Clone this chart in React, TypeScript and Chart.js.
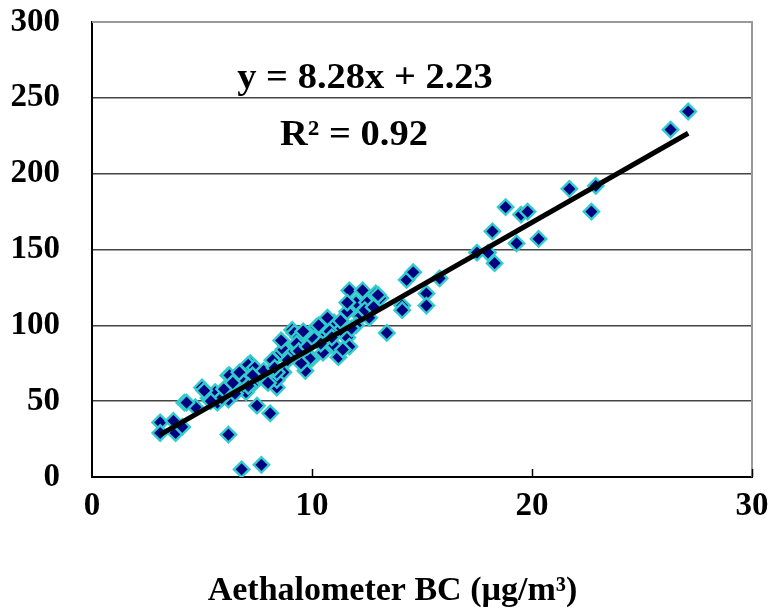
import React, { useEffect, useRef } from "react";
import { Chart, registerables } from "chart.js";

Chart.register(...registerables);

const bcValues = [
  3.1, 3.1, 3.7, 3.8, 4.1, 4.2, 4.7, 5.0, 5.3, 5.6, 5.7, 6.2, 6.2, 6.2, 6.5, 6.6, 6.8, 6.8, 7.2, 7.3,
  7.5, 7.7, 7.6, 7.9, 8.1, 8.2, 8.4, 8.6, 8.7, 8.4, 8.8, 9.1, 9.7, 10.0, 10.2, 9.9, 11.0, 10.9, 11.2, 11.6,
  11.7, 11.6, 11.7, 12.0, 12.3, 12.5, 12.9, 12.6, 13.4, 14.1, 14.1, 14.3, 14.6, 15.2, 15.2, 15.8, 17.5, 18.0, 18.2, 18.3,
  18.8, 19.3, 19.5, 19.8, 20.3, 21.7, 22.7, 22.9, 26.3, 27.1, 4.3, 5.1, 6.25, 6.7, 7.1, 8.4, 8.7, 9.2, 9.4, 9.9,
  10.3, 11.0, 11.0, 11.4, 11.6, 10.5, 9.5, 7.0, 5.9, 6.5, 9.0, 10.6, 12.2, 13.1, 11.3, 8.0, 9.3, 10.8, 12.0, 7.4,
  5.4, 6.0, 6.9, 7.3, 7.8, 8.3, 8.9, 9.4, 9.8, 10.1, 10.4, 10.9, 11.3, 11.8, 12.4, 12.8, 13.0, 8.6, 9.6, 10.7,
  7.1, 6.4,
];
const refValues = [
  36, 29, 37, 29, 33, 49, 46, 59, 52, 56, 49, 67, 51, 28, 59, 64, 69, 5, 75, 61,
  47, 8, 66, 64, 42, 77, 59, 82, 69, 64, 84, 97, 70, 78, 99, 89, 102, 87, 79, 92,
  86, 109, 123, 115, 123, 115, 121, 105, 95, 113, 110, 130, 135, 121, 113, 131, 148, 148, 162, 141,
  178, 154, 173, 175, 157, 190, 175, 192, 229, 241, 49, 57, 67, 69, 74, 69, 84, 95, 92, 78,
  100, 101, 87, 84, 115, 82, 75, 56, 52, 55, 80, 93, 106, 118, 97, 62, 88, 96, 100, 72,
  50, 58, 62, 67, 70, 72, 77, 83, 86, 91, 88, 92, 103, 98, 110, 112, 120, 90, 96, 105,
  60, 62,
];
const fitSlope = 8.28;
const fitIntercept = 2.23;
const fitRange = [3.1, 27.1];
const xTicks = [0, 10, 20, 30];
const yTicks = [0, 50, 100, 150, 200, 250, 300];
const equationText = "y = 8.28x + 2.23";
const r2Text = "R² = 0.92";
const xTitle = "Aethalometer BC (µg/m³)";

const FONT = "'Liberation Serif', 'Times New Roman', Times, serif";

export default function App() {
  const ref = useRef<HTMLCanvasElement | null>(null);

  useEffect(() => {
    document.body.style.margin = "0";
    const canvas = ref.current;
    if (!canvas) return;

    const points = bcValues.map((x, i) => ({ x, y: refValues[i] }));
    const fitPoints = fitRange.map((x) => ({ x, y: fitSlope * x + fitIntercept }));

    const drawStretched = (ctx: any, text: string, cx: number, by: number, sx: number) => {
      ctx.save();
      ctx.translate(cx, by);
      ctx.scale(sx, 1);
      ctx.fillText(text, 0, 0);
      ctx.restore();
    };

    const decor = {
      id: "decor",
      afterDatasetsDraw(chart: any) {
        const { ctx, chartArea, scales, width } = chart;
        ctx.save();
        ctx.strokeStyle = "#999999";
        ctx.lineWidth = 2;
        ctx.beginPath();
        ctx.moveTo(chartArea.left, chartArea.top);
        ctx.lineTo(chartArea.right, chartArea.top);
        ctx.lineTo(chartArea.right, chartArea.bottom);
        ctx.stroke();
        ctx.strokeStyle = "#000";
        ctx.lineWidth = 1.5;
        xTicks.forEach((v) => {
          if (v === 0) return;
          const px = Math.round(scales.x.getPixelForValue(v)) + 0.5;
          ctx.beginPath();
          ctx.moveTo(px, chartArea.bottom);
          ctx.lineTo(px, chartArea.bottom - 8);
          ctx.stroke();
        });
        ctx.fillStyle = "#000";
        ctx.font = `bold 35px ${FONT}`;
        ctx.textAlign = "center";
        ctx.textBaseline = "alphabetic";
        drawStretched(ctx, equationText, chartArea.left + 273, chartArea.top + 66, 1.1);
        drawStretched(ctx, r2Text, chartArea.left + 262, chartArea.top + 123, 1.1);
        ctx.font = `bold 34px ${FONT}`;
        ctx.textBaseline = "middle";
        ctx.fillText(xTitle, width / 2 + 7, 591);
        ctx.restore();
      },
    };

    const chart = new Chart(canvas, {
      type: "scatter",
      data: {
        datasets: [
          {
            data: fitPoints,
            showLine: true,
            borderColor: "#000000",
            borderWidth: 5,
            pointRadius: 0,
            order: 0,
          },
          {
            data: points,
            pointStyle: "rectRot",
            pointRadius: 7.7,
            pointBackgroundColor: "#000080",
            pointBorderColor: "#33CCCC",
            pointBorderWidth: 2.4,
            order: 1,
          },
        ],
      },
      options: {
        responsive: false,
        animation: false,
        layout: { padding: { left: 0, top: 22, right: 19, bottom: 0 } },
        plugins: { legend: { display: false }, tooltip: { enabled: false } },
        scales: {
          x: {
            type: "linear",
            min: 0,
            max: 30,
            afterBuildTicks: (s: any) => {
              s.ticks = xTicks.map((v) => ({ value: v }));
            },
            afterFit: (s: any) => {
              s.height = 138;
              s.paddingLeft = 0;
              s.paddingRight = 0;
            },
            grid: { display: false, drawTicks: false },
            border: { display: true, color: "#000", width: 2 },
            ticks: {
              color: "#000",
              padding: 10,
              font: { family: FONT, size: 33, weight: "bold" },
            },
            title: { display: false },
          },
          y: {
            type: "linear",
            min: 0,
            max: 300,
            afterBuildTicks: (s: any) => {
              s.ticks = yTicks.map((v) => ({ value: v }));
            },
            afterFit: (s: any) => {
              s.width = 92;
              s.paddingTop = 0;
              s.paddingBottom = 0;
            },
            grid: { color: "#444444", lineWidth: 1.5, drawTicks: false },
            border: { display: true, color: "#000", width: 2 },
            ticks: {
              color: "#000",
              padding: 32,
              font: { family: FONT, size: 33, weight: "bold" },
            },
          },
        },
      },
      plugins: [decor],
    } as any);

    return () => chart.destroy();
  }, []);

  return (
    <div style={{ position: "absolute", left: 0, top: 0, width: 771, height: 615, background: "#fff" }}>
      <canvas ref={ref} width={771} height={615} style={{ width: 771, height: 615, display: "block" }} />
    </div>
  );
}
